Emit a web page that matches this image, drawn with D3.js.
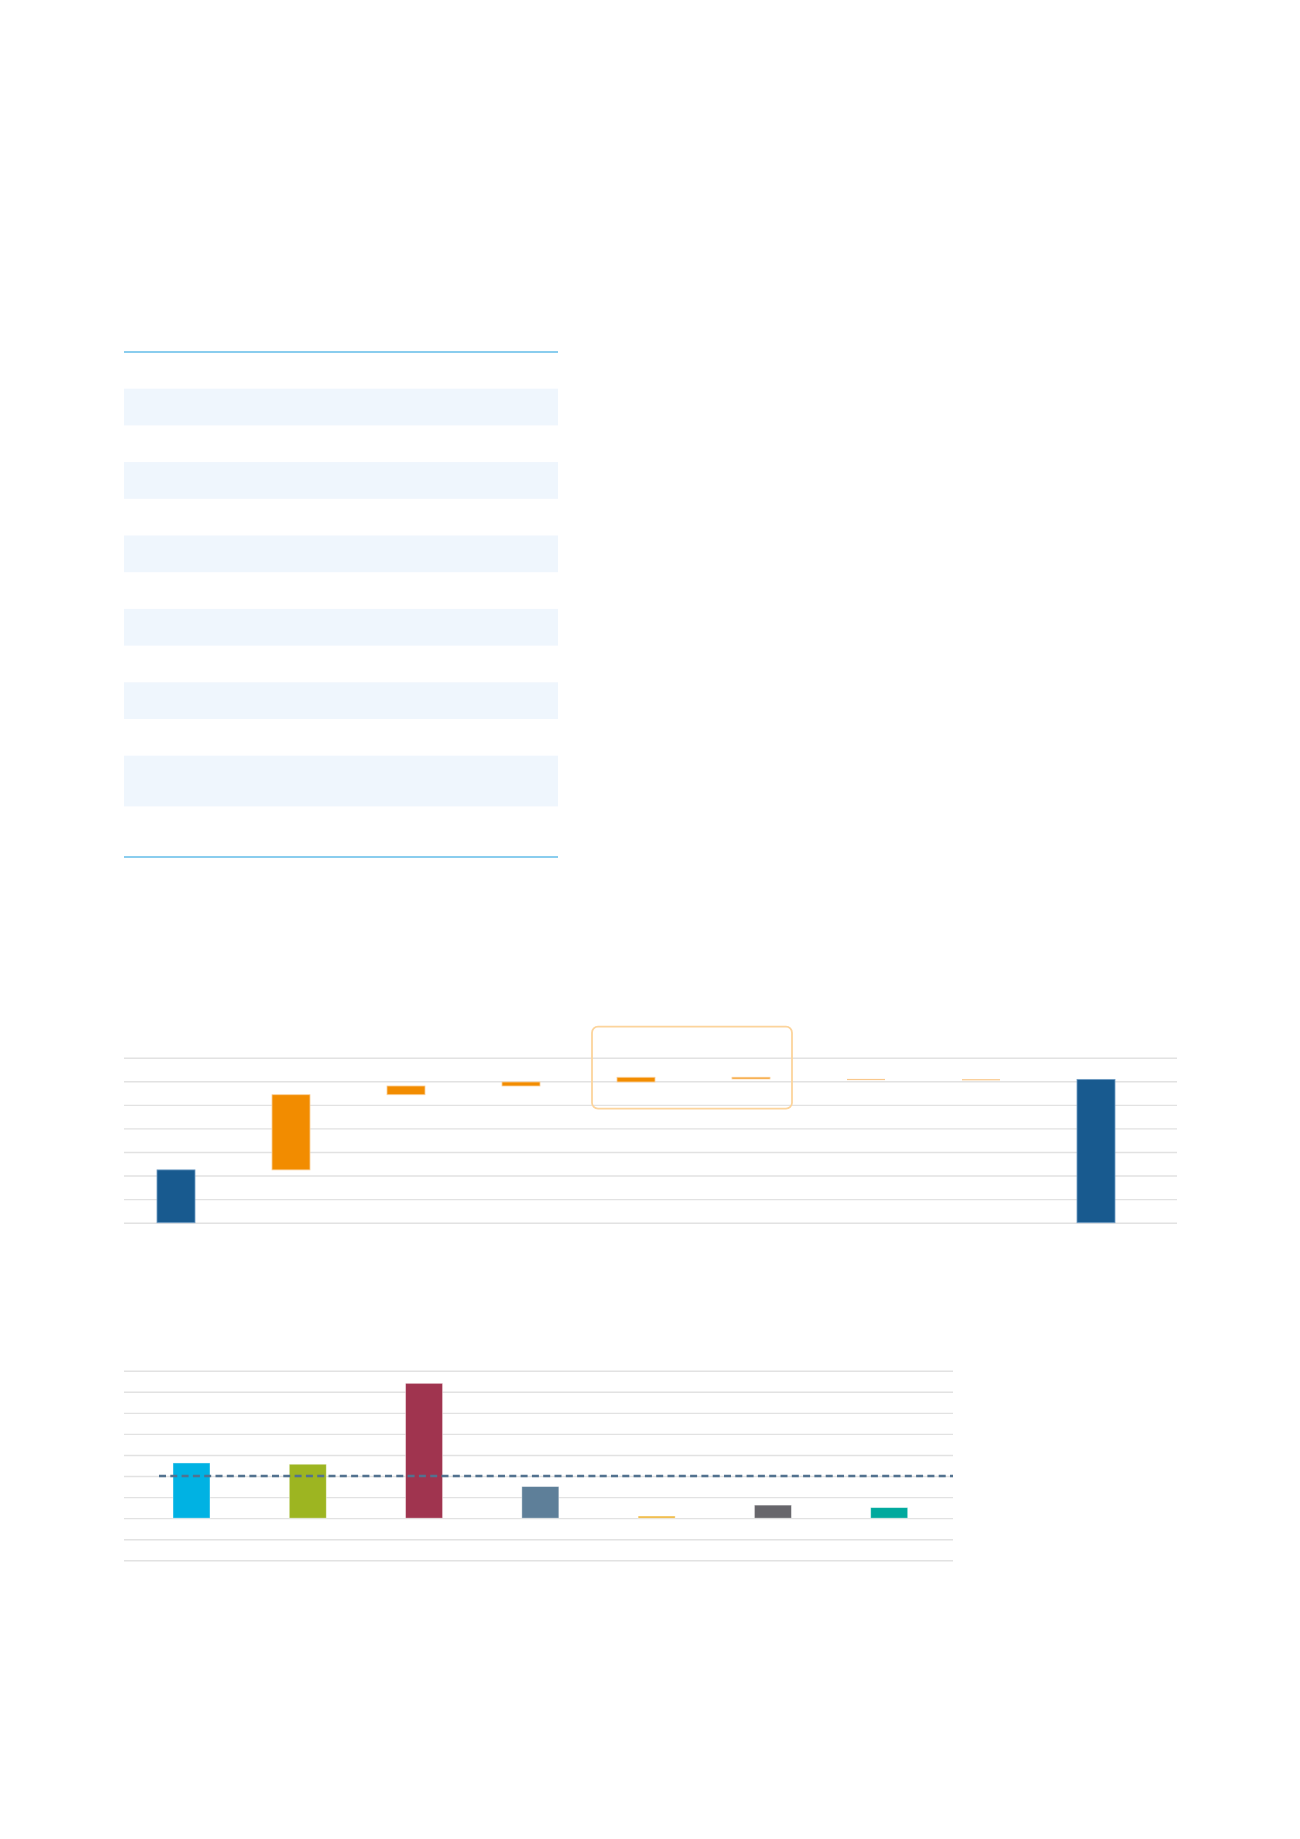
<!DOCTYPE html>
<html>
<head>
<meta charset="utf-8">
<script src="https://cdn.jsdelivr.net/npm/d3@7"></script>
<style>
  body { margin: 0; background: #fff; }
  svg { display: block; }
</style>
</head>
<body>
<div id="page"></div>
<script>
// table: number of text lines per row (row 0 is the header)
var tableRows = [1, 1, 1, 1, 1, 1, 1, 1, 1, 1, 1, 2, 2];

// waterfall
var steps = ["start", "d1", "d2", "d3", "d4", "d5", "d6", "d7", "end"];
var stepValues = [22.4, 31.9, 3.7, 1.7, 2.0, -0.7, -0.1, -0.1, 60.8];
var stepKinds = ["total", "delta", "delta", "delta", "delta", "delta", "minor", "minor", "total"];
var highlighted = ["d4", "d5"];
var wfTicks = [0, 10, 20, 30, 40, 50, 60, 70];

// comparison bars
var groups = ["g1", "g2", "g3", "g4", "g5", "g6", "g7"];
var groupValues = [13.1, 12.8, 32.0, 7.5, 0.5, 3.1, 2.5];
var groupColors = ["#00b2e3", "#9db521", "#a0344f", "#5e7f99", "#f0b73a", "#67666b", "#00a99d"];
var average = 10;
var barTicks = [-10, -5, 0, 5, 10, 15, 20, 25, 30, 35];

var width = 1300, height = 1839;

var svg = d3.select("#page").append("svg")
    .attr("width", width)
    .attr("height", height);

// ---- table ----
var tLeft = 124, tRight = 558, tTop = 352;
var rowH = function(n) { return 22.7 + 14 * n; };
var y0 = tTop;
var rowPos = tableRows.map(function(n) {
  var r = {y: y0, h: rowH(n)};
  y0 += r.h;
  return r;
});

var table = svg.append("g");
table.selectAll("rect")
  .data(rowPos.filter(function(d, i) { return i % 2 == 1; }))
  .enter().append("rect")
    .attr("x", tLeft)
    .attr("y", function(d) { return d.y; })
    .attr("width", tRight - tLeft)
    .attr("height", function(d) { return d.h; })
    .attr("fill", "#eff6fd");

table.selectAll("line")
  .data([tTop, y0])
  .enter().append("line")
    .attr("x1", tLeft).attr("x2", tRight)
    .attr("y1", function(d) { return d; })
    .attr("y2", function(d) { return d; })
    .attr("stroke", "#63bde8")
    .attr("stroke-width", 1.5);

// ---- waterfall ----
var wfX = d3.scalePoint().domain(steps).range([176, 1096]);
var wfY = d3.scaleLinear().domain([0, 70]).range([1222.7, 1057.7]);
var wfBarW = 38;

var wf = svg.append("g");

wf.append("g")
    .attr("transform", "translate(124,0)")
    .call(d3.axisLeft(wfY).tickValues(wfTicks).tickSize(-(1177 - 124)).tickFormat(""))
    .call(function(g) { g.select(".domain").remove(); })
    .selectAll(".tick line")
    .attr("stroke", "#e2e2e2")
    .attr("stroke-width", 1.4);

var running = 0;
var wfData = steps.map(function(s, i) {
  var v = stepValues[i], a, b;
  if (stepKinds[i] == "total") { a = 0; b = v; running = v; }
  else { a = running; b = running + v; running = b; }
  return {step: s, lo: Math.min(a, b), hi: Math.max(a, b), kind: stepKinds[i]};
});

var fills = {total: "#185a8f", delta: "#f28c00", minor: "#f9c88c"};
var strokes = {total: "#6f9cc4", delta: "#fbd09a", minor: "#fbd7a6"};

wf.selectAll(".step")
  .data(wfData)
  .enter().append("rect")
    .attr("class", "step")
    .attr("x", function(d) { return wfX(d.step) - wfBarW / 2; })
    .attr("width", wfBarW)
    .attr("y", function(d) { return wfY(d.hi); })
    .attr("height", function(d) { return Math.max(1.2, wfY(d.lo) - wfY(d.hi)); })
    .attr("fill", function(d) { return fills[d.kind]; })
    .attr("stroke", function(d) { return d.kind == "minor" ? "none" : strokes[d.kind]; })
    .attr("stroke-width", 0.8);

// rounded frame around the highlighted steps
var hx0 = wfX(highlighted[0]) - 44, hx1 = wfX(highlighted[1]) + 41;
wf.append("rect")
    .attr("x", hx0)
    .attr("y", wfY(70) - 31)
    .attr("width", hx1 - hx0)
    .attr("height", 82)
    .attr("rx", 6)
    .attr("fill", "none")
    .attr("stroke", "#fcd49c")
    .attr("stroke-width", 1.8);

// ---- comparison bars ----
var bX = d3.scalePoint().domain(groups).range([191.5, 889.2]);
var bY = d3.scaleLinear().domain([-10, 35]).range([1560.3, 1370.7]);
var bBarW = 37;

var bc = svg.append("g");

bc.append("g")
    .attr("transform", "translate(124,0)")
    .call(d3.axisLeft(bY).tickValues(barTicks).tickSize(-(953 - 124)).tickFormat(""))
    .call(function(g) { g.select(".domain").remove(); })
    .selectAll(".tick line")
    .attr("stroke", "#e2e2e2")
    .attr("stroke-width", 1.4);

bc.selectAll(".bar")
  .data(groups)
  .enter().append("rect")
    .attr("class", "bar")
    .attr("x", function(d) { return bX(d) - bBarW / 2; })
    .attr("width", bBarW)
    .attr("y", function(d, i) { return bY(groupValues[i]); })
    .attr("height", function(d, i) { return bY(0) - bY(groupValues[i]); })
    .attr("fill", function(d, i) { return groupColors[i]; })
    .attr("stroke", "#ffffff")
    .attr("stroke-opacity", 0.5)
    .attr("stroke-width", 0.8);

// average line
bc.append("line")
    .attr("x1", 159).attr("x2", 953)
    .attr("y1", bY(average)).attr("y2", bY(average))
    .attr("stroke", "#52728f")
    .attr("stroke-width", 2.6)
    .attr("stroke-dasharray", "7,4.3");
</script>
</body>
</html>
